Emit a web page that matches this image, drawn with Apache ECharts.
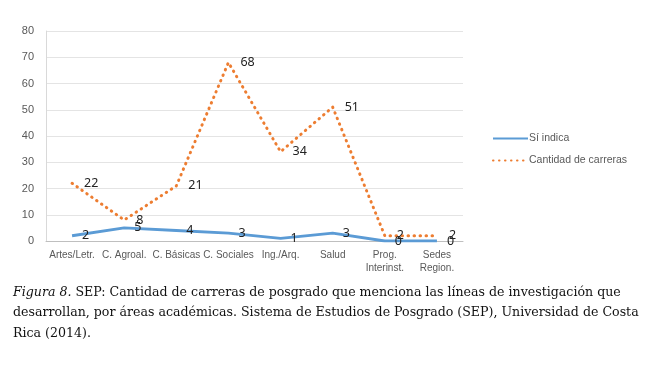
<!DOCTYPE html>
<html><head><meta charset="utf-8">
<script src="https://cdn.jsdelivr.net/npm/echarts@6/dist/echarts.min.js"></script>
<style>html,body{margin:0;padding:0;background:#fff}#c{width:646px;height:367px}</style>
</head><body><div id="c"></div>
<script>
var categories = ['Artes/Letr.', 'C. Agroal.', 'C. Básicas', 'C. Sociales', 'Ing./Arq.', 'Salud', 'Prog.\nInterinst.', 'Sedes\nRegion.'];
var siIndica = [2, 5, 4, 3, 1, 3, 0, 0];
var cantidad = [22, 8, 21, 68, 34, 51, 2, 2];
var yTicks = [0, 10, 20, 30, 40, 50, 60, 70, 80];
var captionLines = [
  'SEP: Cantidad de carreras de posgrado que menciona las líneas de investigación que',
  'desarrollan, por áreas académicas. Sistema de Estudios de Posgrado (SEP), Universidad de Costa',
  'Rica (2014).'
];

var chart = echarts.init(document.getElementById('c'));
var serif = '"DejaVu Serif", "Liberation Serif", serif';
var sans = 'Arial, "Liberation Sans", sans-serif';
var lblFont = '"Noto Sans", "Open Sans", sans-serif';
chart.setOption({
  animation: false,
  grid: { left: 46, right: 183, top: 31, bottom: 126 },
  legend: {
    orient: 'vertical', left: 487, top: 128, itemGap: 11,
    itemWidth: 35, itemHeight: 12,
    itemStyle: { opacity: 0 },
    textStyle: { color: '#595959', fontSize: 10.5, fontFamily: sans, padding: [0,0,0,-4] },
    data: ['Sí indica', 'Cantidad de carreras']
  },
  xAxis: {
    type: 'category', data: categories, boundaryGap: true,
    axisLine: { lineStyle: { color: '#bfbfbf', width: 1 } },
    axisTick: { show: false },
    axisLabel: { interval: 0, color: '#595959', fontSize: 10, margin: 8, lineHeight: 13, fontFamily: sans }
  },
  yAxis: {
    type: 'value', min: yTicks[0], max: yTicks[yTicks.length - 1], interval: 10,
    axisLine: { show: true, lineStyle: { color: '#d9d9d9' } },
    axisTick: { show: false },
    splitLine: { lineStyle: { color: '#e4e4e4', width: 1 } },
    axisLabel: { color: '#595959', fontSize: 11, margin: 12, fontFamily: sans }
  },
  series: [
    {
      name: 'Sí indica', type: 'line', data: siIndica,
      symbol: 'circle', symbolSize: 0.01, showSymbol: true,
      color: '#5B9BD5',
      lineStyle: { color: '#5B9BD5', width: 3 },
      label: { show: true, position: 'right', distance: 10, offset: [0, 3], color: '#222', fontSize: 12.5, fontFamily: lblFont },
      labelLayout: { hideOverlap: false },
      z: 3
    },
    {
      name: 'Cantidad de carreras', type: 'line', data: cantidad,
      symbol: 'circle', symbolSize: 0.01, showSymbol: true,
      color: '#ED7D31',
      lineStyle: { color: '#ED7D31', width: 3, type: [0.5, 5.5], cap: 'round' },
      label: { show: true, position: 'right', distance: 12, offset: [0, 1], color: '#222', fontSize: 12.5, fontFamily: lblFont },
      labelLayout: { hideOverlap: false },
      z: 2
    }
  ],
  graphic: [
    { type: 'text', left: 13, top: 286, style: { text: '{i|Figura 8.} ' + captionLines[0], font: '12.6px ' + serif, fill: '#111',
      rich: { i: { fontStyle: 'italic', fontFamily: serif, fontSize: 12.6 } } } },
    { type: 'text', left: 13, top: 306, style: { text: captionLines[1], font: '12.6px ' + serif, fill: '#111' } },
    { type: 'text', left: 13, top: 327, style: { text: captionLines[2], font: '12.6px ' + serif, fill: '#111' } }
  ]
});
</script></body></html>
